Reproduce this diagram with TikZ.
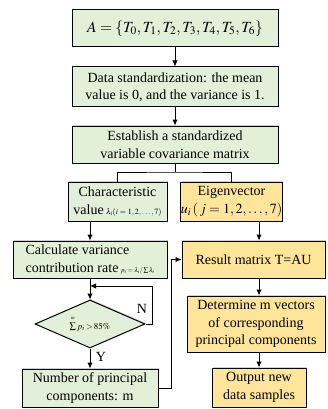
\documentclass[tikz,border=0pt]{standalone}
\usepackage{mathptmx}
\usepackage[no-math]{fontspec}
\setmainfont{Liberation Serif}
\usetikzlibrary{shapes.geometric,arrows.meta,shadows}
\definecolor{boxgreen}{HTML}{E2EFD9}
\definecolor{boxgold}{HTML}{FFE599}
\tikzset{
  flowbox/.style={draw=black, line width=1pt, inner sep=0pt, align=center,
    drop shadow={shadow xshift=1pt, shadow yshift=1pt, opacity=0.3, fill=black!60}},
  greenbox/.style={flowbox, fill=boxgreen},
  goldbox/.style={flowbox, fill=boxgold},
  link/.style={line width=1pt, draw=black},
  arrowlink/.style={link, -{Latex[length=6pt,width=5.5pt]}},
}
\newcommand{\smallmath}[1]{{\fontsize{8}{9}\selectfont$#1$}}
\begin{document}
\begin{tikzpicture}[x=1pt, y=-1pt, font=\fontsize{14}{17.5}\selectfont]
\useasboundingbox (0,0) rectangle (328,409);

% main column
\node[greenbox, minimum width=206pt, minimum height=37pt] (set) at (175,28.5)
  {\fontsize{15.5}{18}\selectfont$A=\left\{T_0,T_1,T_2,T_3,T_4,T_5,T_6\right\}$};
\node[greenbox, minimum width=206pt, minimum height=40pt] (std) at (175,87)
  {Data standardization: the mean\\value is 0, and the variance is 1.};
\node[greenbox, minimum width=206pt, minimum height=37pt] (cov) at (175,144.5)
  {Establish a standardized\\variable covariance matrix};

% eigen decomposition
\node[greenbox, minimum width=99pt, minimum height=39pt] (eigval) at (117.5,201.5)
  {Characteristic\\value\,\smallmath{\lambda_i(i=1,2,\ldots,7)}};
\node[goldbox, minimum width=99pt, minimum height=39pt] (eigvec) at (231.5,201.5)
  {Eigenvector\\$u_i\,(\,j=1,2,\ldots,7)$};

% left branch
\node[greenbox, minimum width=154pt, minimum height=37pt, align=left] (rate) at (90,259.5)
  {Calculate variance\\contribution rate\,{\fontsize{6.5}{8}\selectfont$p_i=\lambda_i/\sum\lambda_i$}};
\node[draw=black, line width=1pt, fill=boxgreen, diamond, aspect=2.29,
  minimum width=110pt, minimum height=48pt, inner sep=0pt,
  drop shadow={shadow xshift=1pt, shadow yshift=1pt, opacity=0.3, fill=black!60}]
  (check) at (90,324)
  {\fontsize{9}{10}\selectfont$\sum\limits^{\raisebox{1.5pt}{$\scriptscriptstyle m$}} p_i\!>\!85\%$};
\node[greenbox, minimum width=136pt, minimum height=38pt] (count) at (90,388)
  {Number of principal\\components: m};

% right branch
\node[goldbox, minimum width=143pt, minimum height=37pt] (result) at (253.5,259.5)
  {Result matrix T=AU};
\node[goldbox, minimum width=138pt, minimum height=56pt] (select) at (256,324)
  {Determine m vectors\\of corresponding\\principal components};
\node[goldbox, minimum width=94pt, minimum height=39pt] (output) at (259,387.5)
  {Output new\\data samples};

% helper coordinates
\coordinate (split) at (175,172);
\coordinate (rcol) at (259,0);
\coordinate (loopin) at (90,286);

% connectors
\draw[arrowlink] (set) -- (std);
\draw[arrowlink] (std) -- (cov);
\draw[link] (cov.south) -- (split);
\draw[link] (eigval.north) |- (split) -| (eigvec.north);
\draw[arrowlink] (rate.north |- eigval.south) -- (rate.north);
\draw[arrowlink] (eigvec.south -| rcol) -- (result.north -| rcol);
\draw[arrowlink] (result.south -| rcol) -- (select.north -| rcol);
\draw[arrowlink] (select.south -| rcol) -- (output.north -| rcol);
\draw[arrowlink] (rate.south) -- (check.north);
\draw[arrowlink] (check.east) -- ++(7,0) |- (loopin);
\draw[arrowlink] (check.south) -- (count.north);
\draw[arrowlink] (count.east) -- ++(13,0) |- (result.west);

% branch labels
\node[inner sep=0pt] (nlabel) at (142,309) {N};
\node[inner sep=0pt] (ylabel) at (101,357) {Y};
\end{tikzpicture}
\end{document}
